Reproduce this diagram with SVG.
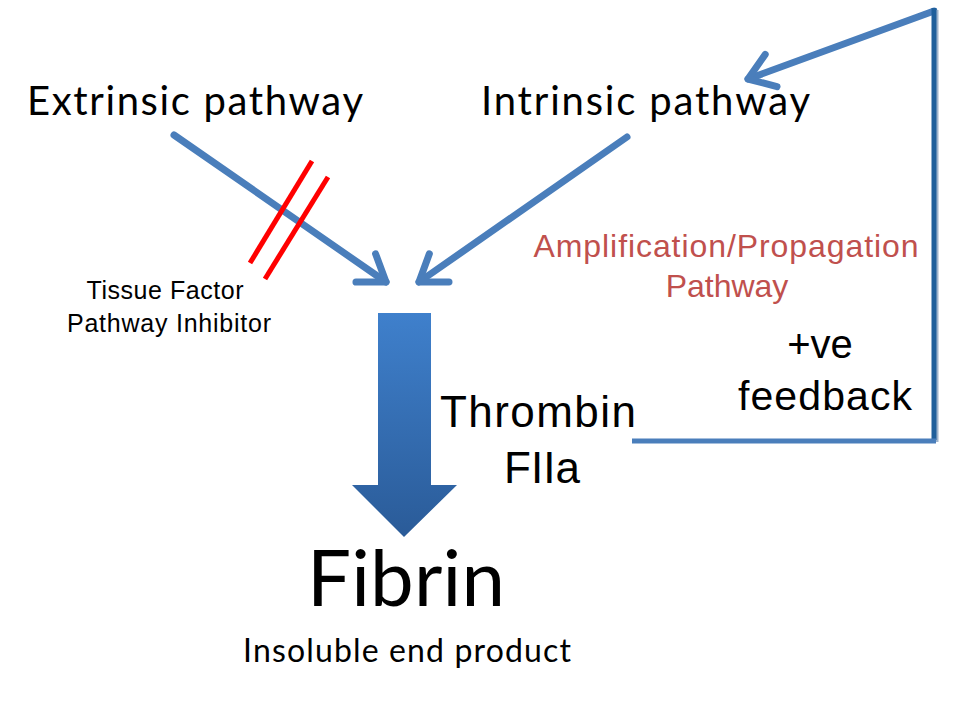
<svg xmlns="http://www.w3.org/2000/svg" width="960" height="720" viewBox="0 0 960 720">
<defs>
<style>
.cal{font-family:Lato,"Open Sans","Liberation Sans",sans-serif;fill:#000}
.ar{font-family:"Liberation Sans",Arial,sans-serif;fill:#000}
.red{font-family:"Liberation Sans",Arial,sans-serif;fill:#c0504d}
.conn{stroke:#4a7ebb;fill:none;stroke-linecap:round;stroke-linejoin:round}
.tfpi{stroke:#ff0000;stroke-width:5;fill:none}
</style>
<marker id="chev" markerUnits="userSpaceOnUse" viewBox="-30 -20 34 40" refX="0" refY="0" markerWidth="34" markerHeight="40" orient="auto" overflow="visible">
<path d="M-24.6,-17.2 L0,0 L-24.6,17.2" fill="none" stroke="#4a7ebb" stroke-width="7" stroke-linecap="round" stroke-linejoin="round"/>
</marker>
<linearGradient id="bg" x1="0" y1="0" x2="0" y2="1">
<stop offset="0" stop-color="#3f80cc"/>
<stop offset="1" stop-color="#2a5b98"/>
</linearGradient>
</defs>
<rect width="960" height="720" fill="#fff"/>

<g id="connectors">
<line class="conn" x1="174" y1="135" x2="386" y2="282" stroke-width="7" marker-end="url(#chev)"/>
<line class="conn" x1="627" y1="137" x2="419" y2="282" stroke-width="7" marker-end="url(#chev)"/>
<line class="conn" x1="934" y1="11" x2="748" y2="79" stroke-width="7" marker-end="url(#chev)"/>
<line x1="936" y1="10" x2="936" y2="442" stroke="#9fb4cc" stroke-width="5"/>
<line x1="934" y1="8" x2="934" y2="440" stroke="#1f5f9b" stroke-width="5"/>
<line x1="632" y1="441" x2="936" y2="441" stroke="#4a7ebb" stroke-width="5"/>
</g>

<g id="tfpi-block">
<line class="tfpi" x1="312" y1="161" x2="250" y2="263"/>
<line class="tfpi" x1="328" y1="177" x2="265" y2="279"/>
</g>

<g id="thrombin-arrow">
<path d="M378,313 L431,313 L431,485 L457,485 L404,537 L352,485 L378,485 Z" fill="url(#bg)"/>
</g>

<g id="extrinsic">
<text class="cal" x="27" y="115" font-size="40" textLength="336">Extrinsic pathway</text>
</g>
<g id="intrinsic">
<text class="cal" x="481" y="115" font-size="40" textLength="329">Intrinsic pathway</text>
</g>
<g id="tissue-factor">
<text class="ar" x="165" y="299" font-size="25" text-anchor="middle" textLength="157">Tissue Factor</text>
<text class="ar" x="169" y="332" font-size="25" text-anchor="middle" textLength="204">Pathway Inhibitor</text>
</g>
<g id="amplification">
<text class="red" x="726" y="257" font-size="32" text-anchor="middle" textLength="385">Amplification/Propagation</text>
<text class="red" x="727" y="297" font-size="32" text-anchor="middle">Pathway</text>
</g>
<g id="feedback">
<text class="ar" x="820" y="358" font-size="40" text-anchor="middle">+ve</text>
<text class="ar" x="825" y="410" font-size="41" text-anchor="middle" textLength="174">feedback</text>
</g>
<g id="thrombin">
<text class="ar" x="538" y="427" font-size="44" text-anchor="middle" textLength="196">Thrombin</text>
<text class="ar" x="542" y="483" font-size="44" text-anchor="middle">FIIa</text>
</g>
<g id="fibrin">
<text class="cal" x="406" y="606" font-size="78" text-anchor="middle" textLength="198">Fibrin</text>
<text class="cal" x="407" y="662" font-size="32" text-anchor="middle" textLength="328">Insoluble end product</text>
</g>
</svg>
